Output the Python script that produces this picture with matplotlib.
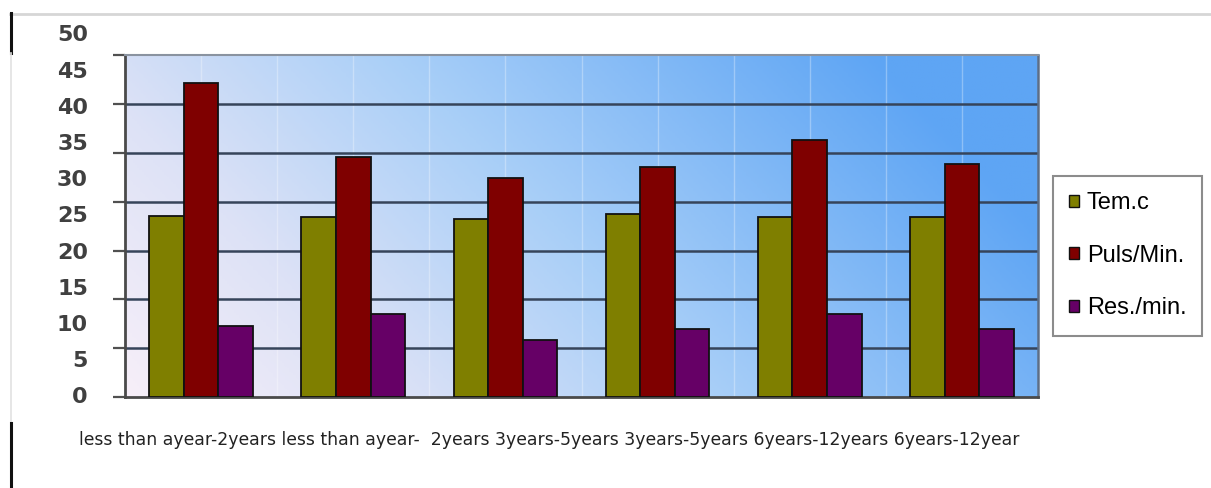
import numpy as np
import matplotlib
matplotlib.use("Agg")
import matplotlib.pyplot as plt
from matplotlib.colors import LinearSegmentedColormap
from matplotlib.patches import Patch
from matplotlib.lines import Line2D
import matplotlib.transforms as mtransforms

# ---- data ----
categories = ["less than ayear-2years", "less than ayear-  2years",
              "3years-5years", "3years-5years",
              "6years-12years", "6years-12year"]
series_names = ["Tem.c", "Puls/Min.", "Res./min."]
tem = [25.0, 24.9, 24.6, 25.3, 24.9, 24.9]
puls = [43.4, 33.2, 30.3, 31.8, 35.6, 32.3]
res = [9.9, 11.5, 7.9, 9.4, 11.5, 9.5]
y_labels = [0, 5, 10, 15, 20, 25, 30, 35, 40, 45, 50]

colors = ["#7f7f00", "#7f0000", "#660066"]

W, H = 1211, 488
fig = plt.figure(figsize=(W / 100, H / 100), dpi=100)
fig.patch.set_facecolor("white")

# plot area in pixel terms
L, R, T, B = 125, 1038, 55, 397.3
ax = fig.add_axes([L / W, 1 - B / H, (R - L) / W, (B - T) / H])

YMAX = 47.3
ax.set_ylim(0, YMAX)
ax.set_xlim(-0.5, len(categories) - 0.5)

# diagonal gradient fill behind the bars
cmap = LinearSegmentedColormap.from_list(
    "bg", [(0.0, "#f7eff9"), (0.25, "#dde2f6"), (0.55, "#a9cff8"), (1.0, "#5ea5f4")])
u = np.linspace(0, 1, 400)[None, :]
v = np.linspace(1, 0, 200)[:, None]
t = np.clip(0.85 * u + 0.3 * v, 0, 1)
ax.imshow(t, cmap=cmap, vmin=0, vmax=1, aspect="auto",
          extent=(-0.5, len(categories) - 0.5, 0, YMAX), zorder=0)

# faint vertical separators
for xv in np.arange(-0.5, len(categories) - 0.4, 0.5):
    ax.axvline(xv, color="white", alpha=0.3, lw=1.0, zorder=1)

# horizontal gridlines (seven bands)
grid_levels = np.linspace(0, YMAX, 8)
ax.set_yticks(grid_levels)
ax.set_yticklabels([])
for gy in grid_levels[1:-1]:
    ax.axhline(gy, color="#36445a", lw=1.8, zorder=1.5)
ax.tick_params(axis="y", direction="out", length=9, width=1.6, color="#505050")
ax.set_xticks([])

x = np.arange(len(categories))
bw = 0.227
for i, (vals, col, name) in enumerate(zip([tem, puls, res], colors, series_names)):
    ax.bar(x + (i - 1) * bw, vals, width=bw, color=col, edgecolor="#111111",
           linewidth=1.3, zorder=3, label=name)

for side in ["left", "bottom"]:
    ax.spines[side].set_color("#4a4a4a")
    ax.spines[side].set_linewidth(2.0)
ax.spines["top"].set_color("#8a93a0")
ax.spines["top"].set_linewidth(1.5)
ax.spines["right"].set_color("#5d6e86")
ax.spines["right"].set_linewidth(1.8)

# y labels 0..50 on the left
trans = mtransforms.blended_transform_factory(ax.transAxes, ax.transData)
for yl in y_labels:
    ax.text((88 - L) / (R - L), yl, str(yl), transform=trans, ha="right",
            va="center", fontsize=16, fontweight="bold", color="#404040",
            clip_on=False, family="DejaVu Sans")

# category text line under the axis
fig.text(549.5 / W, 1 - 445 / H, " ".join(categories), ha="center",
         va="baseline", fontsize=12.45, color="#222222", family="DejaVu Sans")

# legend
handles = [Patch(facecolor=c, edgecolor="#111111", linewidth=1.0) for c in colors]
leg = fig.legend(handles, series_names, loc="upper left",
                 bbox_to_anchor=(1053 / W, 1 - 176 / H),
                 prop={"family": "Liberation Sans", "size": 17},
                 handlelength=0.42, handleheight=0.42, handletextpad=0.33,
                 labelspacing=1.3, borderpad=0.68, borderaxespad=0,
                 fancybox=False, framealpha=1)
leg.get_frame().set_edgecolor("#8c8c8c")
leg.get_frame().set_linewidth(1.5)

# page border lines
def fig_line(xs, ys, color, lw):
    fig.add_artist(Line2D([xx / W for xx in xs], [1 - yy / H for yy in ys],
                          color=color, lw=lw, transform=fig.transFigure))

fig_line([10, 1211], [14, 14], "#d6d6d6", 2.0)
fig_line([11, 11], [13, 53], "#111111", 2.2)
fig_line([11, 11], [53, 423], "#e2e2e2", 1.2)
fig_line([11, 11], [423, 488], "#111111", 2.2)

fig.savefig("out.png", dpi=100)
